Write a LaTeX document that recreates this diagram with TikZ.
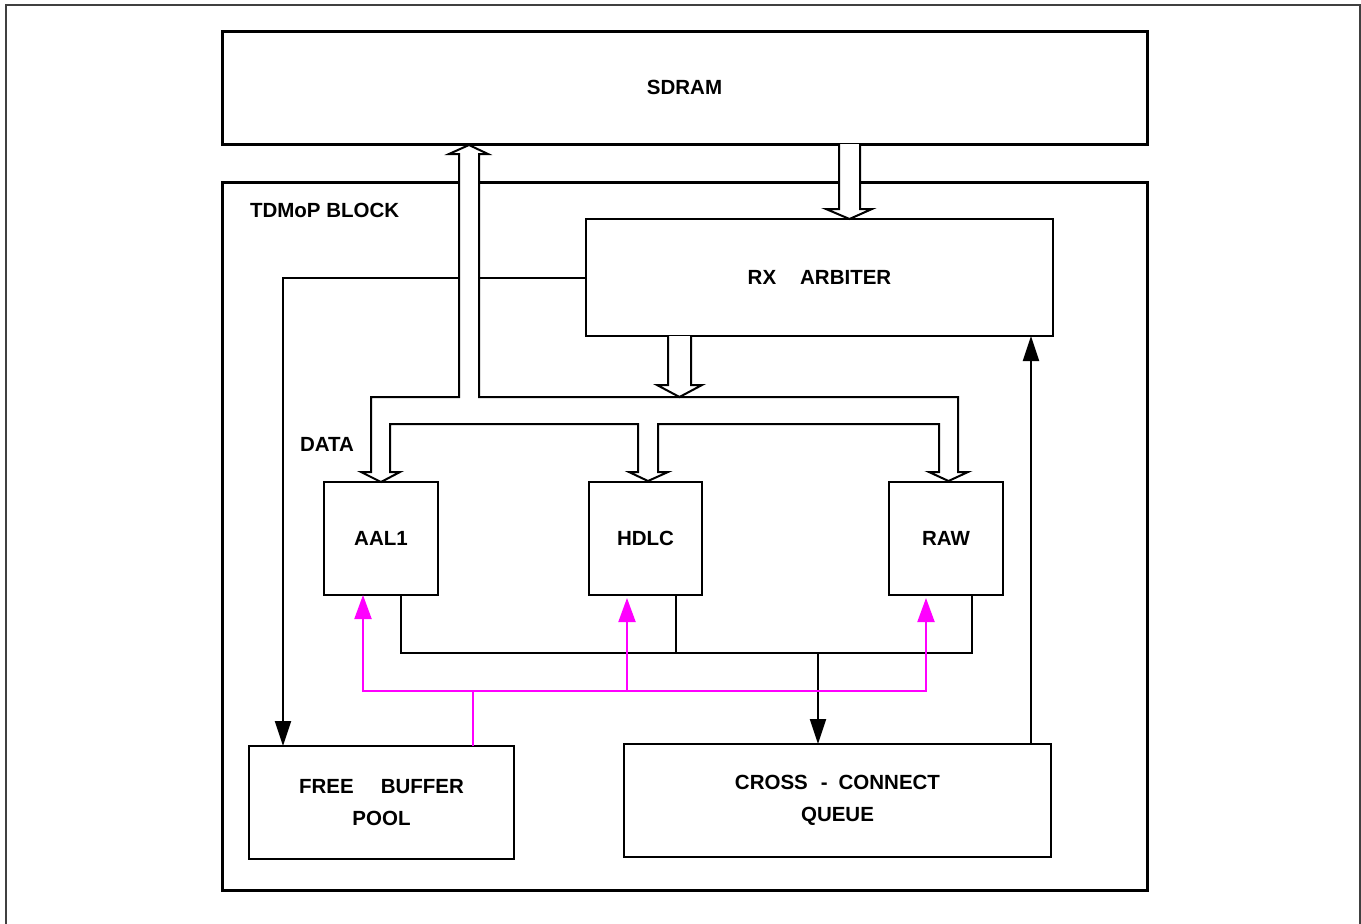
\documentclass[tikz,border=0pt]{standalone}
\usepackage{fontspec}
\setmainfont{Liberation Sans}
\usetikzlibrary{arrows.meta,calc}
\definecolor{mag}{HTML}{FF00FF}
\begin{document}
\begin{tikzpicture}[x=1pt,y=-1pt,
  every node/.style={font=\fontsize{20.5}{32}\selectfont\bfseries, inner sep=0pt, outer sep=0pt},
  thickbox/.style={draw, line width=3pt, rectangle},
  box/.style={draw, line width=2pt, rectangle, fill=white},
  conn/.style={line width=2pt},
  arr/.style={conn, -{Triangle[length=25pt,width=16pt]}},
  magline/.style={line width=2pt, color=mag},
  magarr/.style={magline, -{Triangle[length=24pt,width=17pt]}},
  hollow/.style={draw, fill=white, line width=2pt, line join=miter}
]
\useasboundingbox (0,0) rectangle (1361,924);
% outer frame (open at bottom)
\draw[line width=1.5pt, black!75] (6,924) -- (6,5) -- (1360,5) -- (1360,924);

% main blocks
\node[thickbox, minimum width=925pt, minimum height=113pt] (sdram) at (684.5,87.5) {SDRAM};
\node[thickbox, minimum width=925pt, minimum height=708pt] (tdmop) at (684.5,536) {};
\node[anchor=west] (lbl) at (250,210) {TDMoP BLOCK};

\node[box, minimum width=467pt, minimum height=117pt] (rx) at (819.5,277.5) {RX\hspace{24pt}ARBITER};
\node[box, minimum width=114pt, minimum height=113pt] (aal1) at (381,538.5) {AAL1};
\node[box, minimum width=113pt, minimum height=113pt] (hdlc) at (645.5,538.5) {HDLC};
\node[box, minimum width=114pt, minimum height=113pt] (raw) at (946,538.5) {RAW};
\node[box, minimum width=265pt, minimum height=113pt, align=center] (fbp) at (381.5,802.5) {FREE\hspace{27pt}BUFFER\\POOL};
\node[box, minimum width=427pt, minimum height=113pt, align=center] (cross) at (837.5,800.5) {CROSS\hspace{13pt}-\hspace{11pt}CONNECT\\QUEUE};
\node (data) at (327,444) {DATA};

% RX arbiter to free buffer pool
\coordinate (fbpin) at ($(fbp.north west)+(34,0)$);
\draw[arr] (rx.west) -| (fbpin);

% hollow data bus (SDRAM <-> AAL1 / HDLC / RAW)
\draw[hollow] (aal1.north) -- (400,472) -- (390,472) -- (390,424) -- (638,424) -- (638,472) -- (629,472)
  -- (648,481) -- (668,472) -- (658,472) -- (658,424) -- (939,424) -- (939,472) -- (929,472)
  -- (948.5,481) -- (968,472) -- (958,472) -- (958,397) -- (479,397) -- (479,154) -- (488,154)
  -- (469,145) -- (449,154) -- (459,154) -- (459,397) -- (371,397) -- (371,472) -- (361,472) -- cycle;

% SDRAM -> RX arbiter
\draw[hollow] (839,144) -- (839,209) -- (826,209) -- (849.5,219) -- (872,209) -- (860,209) -- (860,144);
% RX arbiter -> bus
\draw[hollow] (668,336) -- (668,385) -- (657,385) -- (679.5,397) -- (702,385) -- (691,385) -- (691,336);

% outputs to cross-connect queue
\coordinate (jA) at (401,653);
\coordinate (jH) at (676,653);
\coordinate (jR) at (972,653);
\coordinate (jX) at (818,653);
\draw[conn] (aal1.south -| jA) -- (jA) -- (jR) -- (raw.south -| jR);
\draw[conn] (hdlc.south -| jH) -- (jH);
\draw[arr] (jX) -- (cross.north -| jX);

% cross-connect queue -> RX arbiter
\coordinate (xr) at (1031,744);
\draw[arr] (cross.north -| xr) -- (rx.south -| xr);

% free buffer pool -> processors (magenta)
\coordinate (mF) at (473,691);
\coordinate (mA) at (363,691);
\coordinate (mH) at (627,691);
\coordinate (mR) at (926,691);
\draw[magline] (fbp.north -| mF) -- (mF);
\draw[magarr] (mF) -- (mA) -- (aal1.south -| mA);
\draw[magarr, shorten >=3pt] (mF) -- (mR) -- (raw.south -| mR);
\draw[magarr, shorten >=3pt] (mH) -- (hdlc.south -| mH);
\end{tikzpicture}
\end{document}
